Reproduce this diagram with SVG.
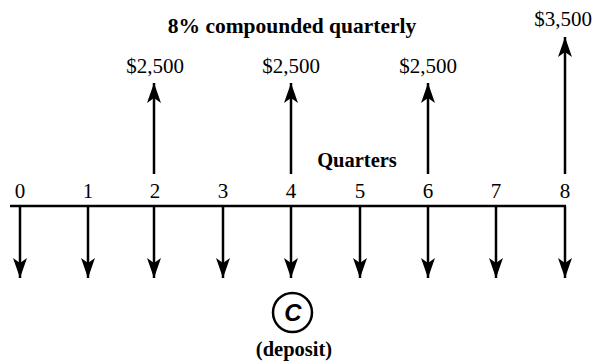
<svg xmlns="http://www.w3.org/2000/svg" width="595" height="361" viewBox="0 0 595 361">
<style>
.t{font-family:"Liberation Serif","Times New Roman",serif;fill:#000}
.b{font-weight:bold}
.ln{stroke:#000;stroke-width:2.5;fill:none}
.hd{fill:#000}
</style>
<defs>
<marker id="ah" viewBox="0 0 20 14" refX="20" refY="7" markerWidth="20" markerHeight="14" markerUnits="userSpaceOnUse" orient="auto">
<path d="M0,0 L20,7 L0,14 L5,7 Z" class="hd"/>
</marker>
</defs>
<rect width="595" height="361" fill="#fff"/>
<text class="t b" x="292" y="33" font-size="21.5" text-anchor="middle">8% compounded quarterly</text>
<g id="axis">
<line class="ln" x1="10" y1="206" x2="566" y2="206"/>
<text class="t" font-size="21" text-anchor="middle" y="198">
<tspan x="20">0</tspan><tspan x="88">1</tspan><tspan x="155">2</tspan><tspan x="223">3</tspan><tspan x="291">4</tspan><tspan x="360">5</tspan><tspan x="428">6</tspan><tspan x="496">7</tspan><tspan x="565">8</tspan>
</text>
<text class="t b" x="357" y="167" font-size="20.5" text-anchor="middle">Quarters</text>
</g>
<g id="connectors">
<line class="ln" x1="20" y1="206" x2="20" y2="278" marker-end="url(#ah)"/>
<line class="ln" x1="88" y1="206" x2="88" y2="278" marker-end="url(#ah)"/>
<line class="ln" x1="154" y1="206" x2="154" y2="278" marker-end="url(#ah)"/>
<line class="ln" x1="223" y1="206" x2="223" y2="278" marker-end="url(#ah)"/>
<line class="ln" x1="291" y1="206" x2="291" y2="278" marker-end="url(#ah)"/>
<line class="ln" x1="360" y1="206" x2="360" y2="278" marker-end="url(#ah)"/>
<line class="ln" x1="428" y1="206" x2="428" y2="278" marker-end="url(#ah)"/>
<line class="ln" x1="496" y1="206" x2="496" y2="278" marker-end="url(#ah)"/>
<line class="ln" x1="565" y1="206" x2="565" y2="278" marker-end="url(#ah)"/>
<line class="ln" x1="154" y1="174" x2="154" y2="83" marker-end="url(#ah)"/>
<line class="ln" x1="291" y1="174" x2="291" y2="83" marker-end="url(#ah)"/>
<line class="ln" x1="428" y1="174" x2="428" y2="83" marker-end="url(#ah)"/>
<line class="ln" x1="565" y1="174" x2="565" y2="37" marker-end="url(#ah)"/>
</g>
<g id="cash-in-2"><text class="t" x="155" y="73" font-size="21" text-anchor="middle">$2,500</text></g>
<g id="cash-in-4"><text class="t" x="291" y="73" font-size="21" text-anchor="middle">$2,500</text></g>
<g id="cash-in-6"><text class="t" x="428" y="73" font-size="21" text-anchor="middle">$2,500</text></g>
<g id="cash-in-8"><text class="t" x="563" y="26" font-size="21" text-anchor="middle">$3,500</text></g>
<g id="deposit">
<circle cx="292.5" cy="312.5" r="19.5" fill="none" stroke="#000" stroke-width="2.5"/>
<text x="293" y="321" font-size="24" font-style="italic" font-weight="bold" font-family="'Liberation Sans',Arial,sans-serif" text-anchor="middle">C</text>
<text class="t b" x="294" y="356" font-size="20.5" text-anchor="middle">(deposit)</text>
</g>
</svg>
